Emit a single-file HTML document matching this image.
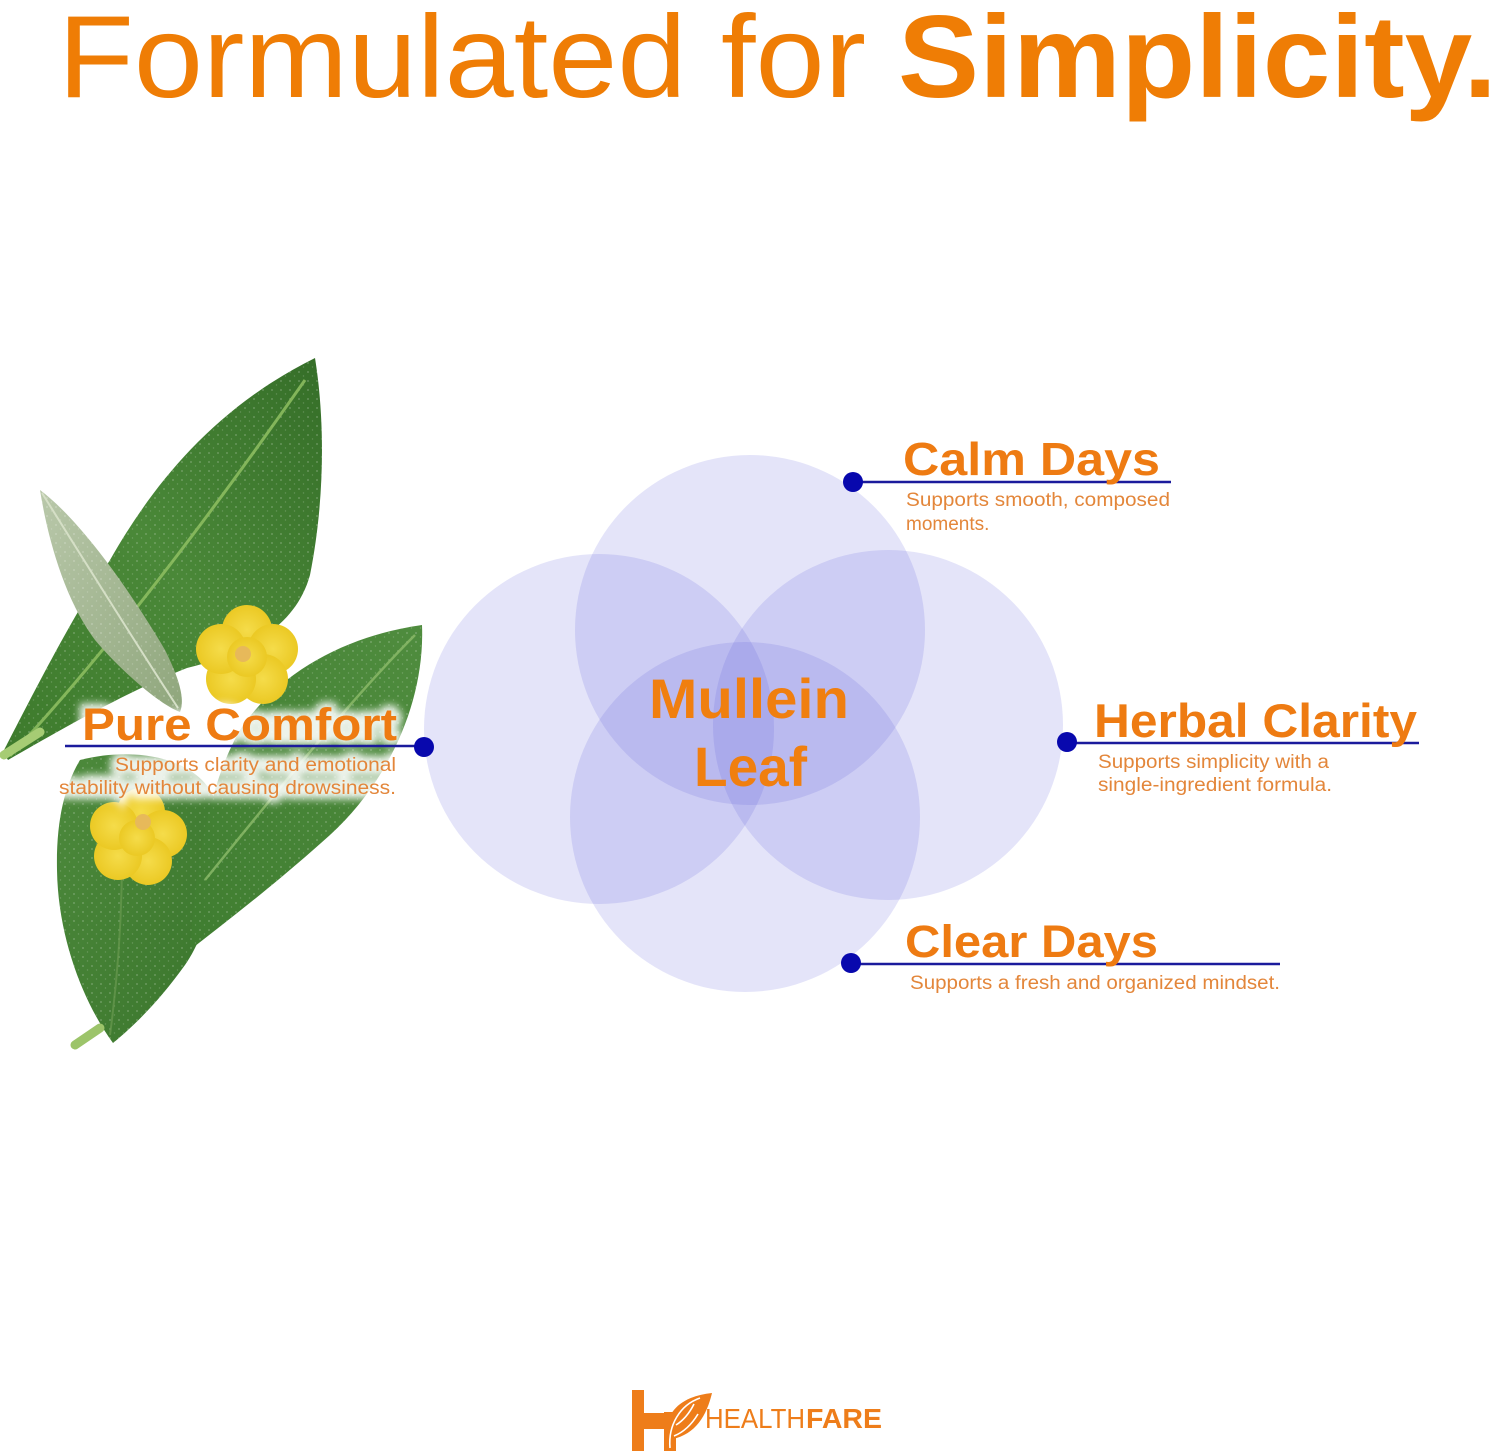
<!DOCTYPE html>
<html>
<head>
<meta charset="utf-8">
<style>
html,body{margin:0;padding:0;background:#fff;}
body{width:1500px;height:1453px;overflow:hidden;}
svg{display:block;}
text{font-family:"Liberation Sans",sans-serif;}
</style>
</head>
<body>
<svg width="1500" height="1453" viewBox="0 0 1500 1453" xmlns="http://www.w3.org/2000/svg">
<defs>
  <linearGradient id="gA" x1="0" y1="1" x2="1" y2="0">
    <stop offset="0" stop-color="#3d7a2c"/>
    <stop offset="0.5" stop-color="#4a8838"/>
    <stop offset="1" stop-color="#356e28"/>
  </linearGradient>
  <linearGradient id="gC" x1="0" y1="1" x2="1" y2="0">
    <stop offset="0" stop-color="#3f7d30"/>
    <stop offset="1" stop-color="#4f8c3e"/>
  </linearGradient>
  <linearGradient id="gD" x1="0" y1="0" x2="1" y2="1">
    <stop offset="0" stop-color="#4d8a3c"/>
    <stop offset="1" stop-color="#3a752c"/>
  </linearGradient>
  <linearGradient id="gB" x1="0" y1="0" x2="1" y2="1">
    <stop offset="0" stop-color="#b9c8aa"/>
    <stop offset="1" stop-color="#8fa67c"/>
  </linearGradient>
  <radialGradient id="gF" cx="0.5" cy="0.5" r="0.6">
    <stop offset="0" stop-color="#f5dc4a"/>
    <stop offset="1" stop-color="#e9c51c"/>
  </radialGradient>
  <pattern id="drops" width="9" height="9" patternUnits="userSpaceOnUse">
    <circle cx="2" cy="3" r="0.9" fill="#ffffff" fill-opacity="0.28"/>
    <circle cx="6.5" cy="7" r="0.7" fill="#ffffff" fill-opacity="0.2"/>
  </pattern>
  <filter id="glow" x="-10%" y="-30%" width="120%" height="160%">
    <feGaussianBlur stdDeviation="4"/>
  </filter>
</defs>

<!-- Title -->
<text x="58" y="97" font-size="117" fill="#ef7d05" textLength="808" lengthAdjust="spacingAndGlyphs">Formulated for</text>
<text x="898" y="97" font-size="117" font-weight="bold" fill="#ef7d05" textLength="599" lengthAdjust="spacingAndGlyphs">Simplicity.</text>

<!-- Leaves -->
<g>
  <!-- leaf D lower-left -->
  <path d="M113,1043 C85,1005 58,940 57,870 C56,820 65,785 80,760 C140,745 200,760 215,800 C225,860 210,930 185,965 C160,1000 135,1025 113,1043 Z" fill="url(#gD)"/>
  <path d="M113,1043 C85,1005 58,940 57,870 C56,820 65,785 80,760 C140,745 200,760 215,800 C225,860 210,930 185,965 C160,1000 135,1025 113,1043 Z" fill="url(#drops)"/>
  <path d="M110,1035 C120,960 125,880 120,790" stroke="#6a9a50" stroke-width="2" fill="none" opacity="0.7"/>
  <path d="M75,1045 L100,1028" stroke="#9cc46a" stroke-width="9" stroke-linecap="round"/>
  <!-- leaf C lower-right -->
  <path d="M422,625 C425,700 390,780 330,835 C280,880 235,915 190,950 C195,880 205,790 240,730 C280,670 350,635 422,625 Z" fill="url(#gC)"/>
  <path d="M422,625 C425,700 390,780 330,835 C280,880 235,915 190,950 C195,880 205,790 240,730 C280,670 350,635 422,625 Z" fill="url(#drops)"/>
  <path d="M205,880 C270,800 350,700 415,635" stroke="#8dbb6a" stroke-width="2.5" fill="none" opacity="0.8"/>
  <!-- leaf A big top -->
  <path d="M315,358 C325,420 325,500 310,575 C295,630 240,655 187,668 C130,690 60,730 8,760 L3,752 C30,700 70,620 110,560 C150,490 210,410 315,358 Z" fill="url(#gA)"/>
  <path d="M315,358 C325,420 325,500 310,575 C295,630 240,655 187,668 C130,690 60,730 8,760 L3,752 C30,700 70,620 110,560 C150,490 210,410 315,358 Z" fill="url(#drops)"/>
  <path d="M10,756 C100,660 200,530 305,380" stroke="#8fbf62" stroke-width="3" fill="none" opacity="0.85"/>
  <path d="M4,755 L40,732" stroke="#a6cc74" stroke-width="9" stroke-linecap="round"/>
  <!-- sage leaf B -->
  <path d="M40,490 C80,520 130,590 165,650 C180,680 185,700 180,712 C160,705 120,670 95,640 C65,600 48,540 40,490 Z" fill="url(#gB)"/>
  <path d="M40,490 C80,520 130,590 165,650 C180,680 185,700 180,712 C160,705 120,670 95,640 C65,600 48,540 40,490 Z" fill="url(#drops)"/>
  <path d="M42,493 C90,570 140,650 178,708" stroke="#d5dfc6" stroke-width="2" fill="none"/>
  <!-- flower 1 -->
  <g fill="url(#gF)">
    <circle cx="247" cy="630" r="25"/>
    <circle cx="273" cy="649" r="25"/>
    <circle cx="263" cy="679" r="25"/>
    <circle cx="231" cy="679" r="25"/>
    <circle cx="221" cy="649" r="25"/>
    <circle cx="247" cy="657" r="20"/>
  </g>
  <circle cx="243" cy="654" r="8" fill="#e7b95a"/>
  <!-- flower 2 -->
  <g fill="url(#gF)">
    <circle cx="141" cy="812" r="24"/>
    <circle cx="163" cy="834" r="24"/>
    <circle cx="148" cy="861" r="24"/>
    <circle cx="118" cy="856" r="24"/>
    <circle cx="114" cy="826" r="24"/>
    <circle cx="137" cy="838" r="18"/>
  </g>
  <circle cx="143" cy="822" r="8" fill="#e7b95a"/>
</g>

<!-- Circles -->
<g fill="#5555d7" fill-opacity="0.16">
  <circle cx="750" cy="630" r="175"/>
  <circle cx="599" cy="729" r="175"/>
  <circle cx="888" cy="725" r="175"/>
  <circle cx="745" cy="817" r="175"/>
</g>

<!-- Mullein Leaf -->
<text x="649" y="718" font-size="56" font-weight="bold" fill="#f07f0f" textLength="200" lengthAdjust="spacingAndGlyphs">Mullein</text>
<text x="694" y="786" font-size="56" font-weight="bold" fill="#f07f0f" textLength="113" lengthAdjust="spacingAndGlyphs">Leaf</text>

<!-- Pure Comfort glow -->
<g filter="url(#glow)" fill="#fff" stroke="#fff" stroke-width="10" opacity="0.9">
  <text x="82" y="740" font-size="45" font-weight="bold" textLength="315" lengthAdjust="spacingAndGlyphs">Pure Comfort</text>
  <text x="115" y="771" font-size="19" textLength="281" lengthAdjust="spacingAndGlyphs">Supports clarity and emotional</text>
  <text x="59" y="794" font-size="19" textLength="337" lengthAdjust="spacingAndGlyphs">stability without causing drowsiness.</text>
</g>

<!-- Connectors -->
<g stroke="#1b1b9c" stroke-width="2.5">
  <line x1="853" y1="482" x2="1171" y2="482"/>
  <line x1="1067" y1="743" x2="1419" y2="743"/>
  <line x1="851" y1="964" x2="1280" y2="964"/>
  <line x1="65" y1="746" x2="424" y2="746"/>
</g>
<g fill="#0808ad">
  <circle cx="853" cy="482" r="10"/>
  <circle cx="1067" cy="742" r="10"/>
  <circle cx="851" cy="963" r="10"/>
  <circle cx="424" cy="747" r="10"/>
</g>

<!-- Labels -->
<g fill="#ee7b12" font-weight="bold">
  <text x="903" y="475" font-size="46" textLength="257" lengthAdjust="spacingAndGlyphs">Calm Days</text>
  <text x="1094" y="737" font-size="47" textLength="323" lengthAdjust="spacingAndGlyphs">Herbal Clarity</text>
  <text x="905" y="957" font-size="45" textLength="253" lengthAdjust="spacingAndGlyphs">Clear Days</text>
  <text x="82" y="740" font-size="45" textLength="315" lengthAdjust="spacingAndGlyphs">Pure Comfort</text>
</g>
<g fill="#e3863a" font-size="19">
  <text x="906" y="506" textLength="264" lengthAdjust="spacingAndGlyphs">Supports smooth, composed</text>
  <text x="906" y="530">moments.</text>
  <text x="1098" y="768" textLength="231" lengthAdjust="spacingAndGlyphs">Supports simplicity with a</text>
  <text x="1098" y="791" textLength="234" lengthAdjust="spacingAndGlyphs">single-ingredient formula.</text>
  <text x="910" y="989" textLength="370" lengthAdjust="spacingAndGlyphs">Supports a fresh and organized mindset.</text>
  <text x="115" y="771" textLength="281" lengthAdjust="spacingAndGlyphs">Supports clarity and emotional</text>
  <text x="59" y="794" textLength="337" lengthAdjust="spacingAndGlyphs">stability without causing drowsiness.</text>
</g>

<!-- Logo -->
<g fill="#ee7d1a">
  <rect x="632" y="1390" width="12" height="61"/>
  <rect x="644" y="1413" width="22" height="16"/>
  <path d="M664,1412 L676,1412 L676,1451 L664,1451 Z"/>
  <path d="M668,1440 C662,1412 682,1396 712,1393 C706,1418 694,1436 668,1440 Z"/>
</g>
<g stroke="#fff" stroke-width="1.6" fill="none">
  <path d="M670,1448 C668,1425 680,1405 700,1398"/>
  <path d="M676,1425 C684,1420 690,1412 694,1404"/>
  <path d="M674,1436 C684,1432 692,1424 698,1414"/>
</g>
<text x="705" y="1428" font-size="28" fill="#ee7d1a" textLength="100" lengthAdjust="spacingAndGlyphs">HEALTH</text>
<text x="806" y="1428" font-size="28" font-weight="bold" fill="#ee7d1a" textLength="76" lengthAdjust="spacingAndGlyphs">FARE</text>
</svg>
</body>
</html>
